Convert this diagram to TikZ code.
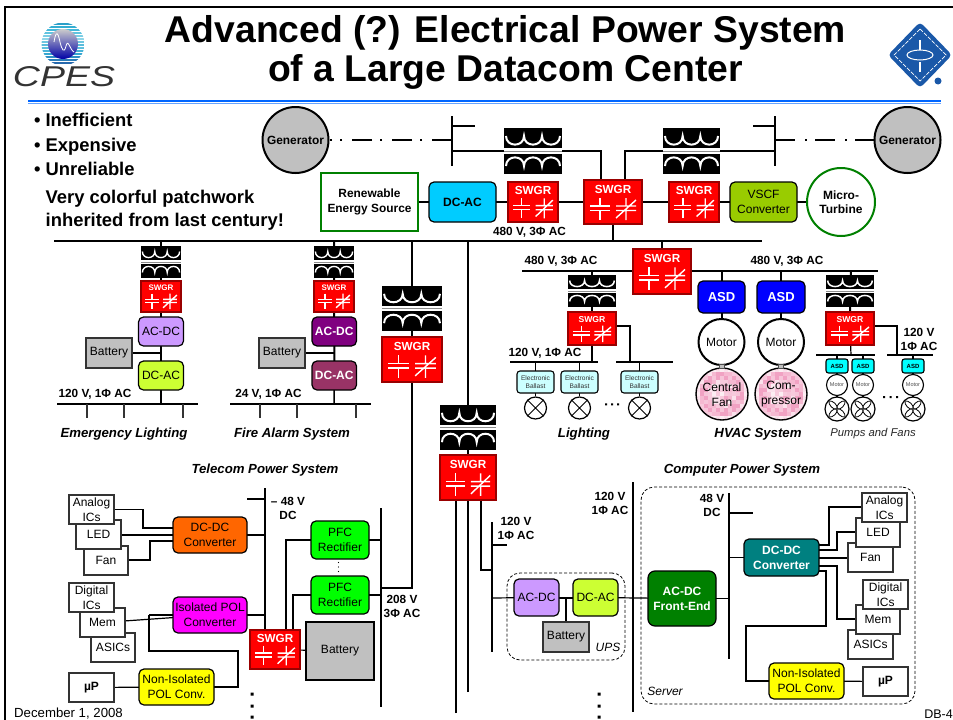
\documentclass[tikz,border=0pt]{standalone}
\usepackage{fontspec}
\setmainfont{Liberation Sans}
\usetikzlibrary{backgrounds,calc}
\definecolor{swred}{HTML}{FF0000}
\definecolor{swedge}{HTML}{990000}
\definecolor{grn}{HTML}{008000}
\definecolor{lilac}{HTML}{CC99FF}
\definecolor{lime}{HTML}{CCFF33}
\definecolor{plum}{HTML}{800080}
\definecolor{mauve}{HTML}{993366}
\definecolor{skyb}{HTML}{00CCFF}
\definecolor{olivg}{HTML}{99CC00}
\definecolor{ltcyan}{HTML}{CCFFFF}
\definecolor{aquab}{HTML}{00FFFF}
\definecolor{orng}{HTML}{FF6600}
\definecolor{magn}{HTML}{FF00FF}
\definecolor{brgrn}{HTML}{00FF00}
\definecolor{teal2}{HTML}{008080}
\definecolor{yell}{HTML}{FFFF00}
\definecolor{greyf}{HTML}{C0C0C0}
\definecolor{sealb}{HTML}{1A58A8}
\definecolor{rulea}{HTML}{0066FF}
\definecolor{ruleb}{HTML}{66A3FF}
\definecolor{pinkb}{HTML}{E8609A}
\definecolor{pinkl}{HTML}{FDF0F4}
\tikzset{
  wire/.style={line width=1.2pt,black},
  wireb/.style={line width=2pt,black},
  busl/.style={line width=2.8pt,black},
  rbox/.style={draw=black,line width=1.2pt,rounded corners=5pt},
  sbox/.style={draw=black!80,line width=1.2pt,fill=white},
  batt/.style={draw=black!80,line width=2.5pt,fill=greyf},
  dbox/.style={draw=black,line width=.8pt,dash pattern=on 3pt off 2pt,rounded corners=13pt},
  lab/.style={font=\fontsize{11.8}{14}\selectfont\bfseries,align=center,inner sep=0pt},
  ilab/.style={font=\fontsize{13.2}{15}\selectfont\bfseries\itshape,inner sep=0pt},
  bull/.style={font=\fontsize{18.4}{23}\selectfont\bfseries,anchor=base west,inner sep=0pt},
  tx/.style={font=\fontsize{12}{15}\selectfont},
  txb/.style={font=\fontsize{12}{15}\selectfont\bfseries},
  dashdot/.style={line width=1.6pt,dash pattern=on 20pt off 10pt on 2pt off 8pt},
  ring/.style={draw=black,line width=2pt,fill=white,circle,inner sep=0pt,align=center},
  dot3/.style={fill=black},
}
\newcommand{\mybox}[7][]{%
  \pgfmathsetmacro\bcx{(#3+#5)/2}\pgfmathsetmacro\bcy{(#4+#6)/2}%
  \pgfmathsetmacro\bw{#5-#3}\pgfmathsetmacro\bh{#6-#4}%
  \node[rectangle,minimum width=\bw pt,minimum height=\bh pt,inner sep=0pt,outer sep=0pt,align=center,#1] (#2) at (\bcx,\bcy) {#7};}
\newcommand{\myswgr}[6]{%
  \mybox[fill=swred,draw=swedge,line width=1.8pt]{#1}{#2}{#3}{#4}{#5}{}%
  \begin{scope}[shift={(\bcx,\bcy)},xscale=\bw/58,yscale=\bh/44]
    \node[text=white,inner sep=0pt,font=\fontsize{#6}{#6}\selectfont\bfseries] (#1t) at (0,-12.5) {SWGR};
    \draw[white,line width=1.4pt] (-23,4)--(-3,4) (-23,8.5)--(-3,8.5) (-13,-4)--(-13,4) (-13,8.5)--(-13,18);
    \draw[white,line width=1.4pt] (3,4)--(23,4) (3,8.5)--(23,8.5) (13,-4)--(13,4) (13,8.5)--(13,18) (3,16)--(23,-2);
  \end{scope}}
\newcommand{\myxf}[6]{%
  \mybox[fill=black]{#1}{#2}{#3}{#4}{#5}{}%
  \begin{scope}[shift={(\bcx,\bcy)},xscale=\bw/58,yscale=\bh/46]
    \fill[white] (-29,-2.6) rectangle (29,2.6);
    \fill[black!45] (-29,-.5) rectangle (29,.5);
    \draw[white,line width=#6pt]
      (-27,-15) .. controls (-27,-3.5) and (-9,-3.5) .. (-9,-15)
      .. controls (-9,-3.5) and (9,-3.5) .. (9,-15) .. controls (9,-3.5) and (27,-3.5) .. (27,-15);
    \draw[white,line width=#6pt]
      (-27,15) .. controls (-27,3.5) and (-9,3.5) .. (-9,15)
      .. controls (-9,3.5) and (9,3.5) .. (9,15) .. controls (9,3.5) and (27,3.5) .. (27,15);
  \end{scope}}
\newcommand{\mylab}[4][lab]{\node[#1] (#2) at (#3) {#4};}
\newcommand{\mylamp}[3]{%
  \node[draw=black,line width=1.2pt,fill=white,circle,minimum size=22pt,inner sep=0pt] (#1) at (#2,#3) {};
  \draw[line width=.8pt] (#1.45)--(#1.225) (#1.135)--(#1.315);}
\newcommand{\myfan}[3]{%
  \node[draw=black,line width=1.2pt,fill=white,circle,minimum size=24pt,inner sep=0pt] (#1) at (#2,#3) {};
  \begin{scope}[shift={(#2,#3)}]
   \foreach \aa in {45,135,225,315}{
    \draw[line width=.8pt,rotate=\aa,fill=white] (0,0) .. controls (2,3.6) and (9,3.2) .. (11.5,0) .. controls (9,-3.2) and (2,-3.6) .. (0,0);}
  \end{scope}}
\newcommand{\mypink}[3]{%
  \fill[pinkl] (#2,#3) circle (26);
  \begin{scope}
    \clip (#2,#3) circle (25.4);
    \foreach \ix in {-6,...,6}{\foreach \iy in {-6,...,6}{
      \pgfmathsetmacro\rr{sqrt(\ix*\ix+\iy*\iy)*4}
      \pgfmathsetmacro\pp{((\rr>14&&\rr<23)||(\rr>4&&\rr<9&&\ix>-1)) ? 30 : 2}
      \pgfmathsetmacro\jj{int(mod(\ix*\ix*7+\iy*\iy*3+\ix*\iy*5+40,4))*8+\pp}
      \fill[pinkb,opacity=\jj/100] ({#2+\ix*4-2},{#3+\iy*4-2}) rectangle +(4,4);
    }}
  \end{scope}
  \node[draw=black,line width=1.4pt,circle,minimum size=52pt,inner sep=0pt] (#1) at (#2,#3) {};}
\begin{document}
\begin{tikzpicture}[x=1pt,y=-1pt]
\useasboundingbox (0,0) rectangle (953,720);
% ---- frame and rule ----
\coordinate (frA) at (5,720); \coordinate (frB) at (5,7); \coordinate (frC) at (953,7);
\draw[line width=2pt] (frA)--(frB)--(frC);
\coordinate (ruA) at (28,101); \coordinate (ruB) at (941,101);
\coordinate (ruC) at (28,103.4); \coordinate (ruD) at (941,103.4);
\draw[rulea,line width=1.4pt] (ruA)--(ruB);
\draw[ruleb,line width=.8pt] (ruC)--(ruD);
% ---- logos and title ----
\begin{scope}
 \clip (63,44) circle (21.5);
 \foreach \yy/\cc in {23/2A9FC8,26/35AED2,29/45B8DA,32/60C4E0,35/7ACDE4,38/8FD5E8,41/6FC6E0,44/58BCDC,47/60C0DE,50/48B4D8,53/35A6D0,56/2F90C4,59/2A7CB8,62/2668AC}{
   \definecolor{ctmp}{HTML}{\cc}\fill[ctmp] (41,\yy) rectangle (85,\yy+1.9);}
\end{scope}
\shade[top color=black!20,bottom color=blue!65!black] (63,44) circle (15);
\draw[white,line width=.8pt] (54,42) .. controls (56,30) and (58,32) .. (60,42) .. controls (62,50) and (64,54) .. (66,46) .. controls (68,38) and (70,50) .. (74,52);
\node[inner sep=0pt,text=black!80] (cpes) at (64,76.5) {\resizebox{102pt}{20pt}{\itshape CPES}};
\coordinate (seal) at (920,55);
\fill[sealb,rounded corners=4pt] (seal) ++(0,-33) -- ++(32,33) -- ++(-32,33) -- ++(-32,-33) -- cycle;
\draw[white,line width=.7pt,dash pattern=on 4pt off 1.5pt] (seal) ++(0,-26) -- ++(26,26) -- ++(-26,26) -- ++(-26,-26) -- cycle;
\draw[white,line width=1pt] (920,55) ellipse (13 and 5);
\draw[white,line width=1.6pt] (920,40)--(920,50) (920,62)--(920,72);
\fill[sealb] (938,81) circle (3.5);
\mylab[{font=\fontsize{37.3}{39}\selectfont\bfseries,align=center,inner sep=0pt}]{title}{505.5,52}{Advanced (?) Electrical Power System\\of a Large Datacom Center}
\mylab[bull]{b1}{34,126.5}{•\hspace{5pt}Inefficient}
\mylab[bull]{b2}{34,151}{•\hspace{5pt}Expensive}
\mylab[bull]{b3}{34,175.5}{•\hspace{5pt}Unreliable}
\mylab[bull]{b4}{45.5,203.5}{Very colorful patchwork}
\mylab[bull]{b5}{45.5,226}{inherited from last century!}
% ---- top ----
\node[ring,minimum size=66pt,fill=greyf,font=\bfseries\fontsize{11.9}{14}\selectfont] (genL) at (295.5,140) {Generator};
\node[ring,minimum size=66pt,fill=greyf,font=\bfseries\fontsize{11.9}{14}\selectfont] (genR) at (907.5,140) {Generator};
\coordinate (bLt) at (452,116); \coordinate (bLb) at (452,166); \coordinate (bLg) at (452,140);
\coordinate (bLs) at (452,126); \coordinate (bLse) at (475,126); \coordinate (bLm) at (452,151);
\coordinate (bRt) at (775,116); \coordinate (bRb) at (775,166); \coordinate (bRg) at (775,140);
\coordinate (bRs) at (775,126); \coordinate (bRse) at (753,126); \coordinate (bRm) at (775,151);
\myxf{xfa}{504}{128}{562}{174}{2}
\myxf{xfb}{663}{128}{720}{174}{2}
\mybox[draw=grn,line width=2.6pt,fill=white,font=\bfseries\fontsize{11.9}{14.5}\selectfont]{ren}{321}{173}{418}{231}{Renewable\\Energy Source}
\mybox[rbox,fill=skyb,txb]{dcacT}{429}{182}{496}{222}{DC-AC}
\myswgr{swa}{508}{182}{558}{222}{11.7}
\myswgr{swc}{584}{180}{642}{224}{11.7}
\myswgr{swb}{669}{182}{719}{222}{11.7}
\mybox[rbox,fill=olivg,tx]{vscf}{730}{182}{797}{222}{VSCF\\Converter}
\node[ring,draw=grn,line width=2pt,minimum size=68pt,font=\fontsize{12}{14.5}\selectfont\bfseries] (micro) at (841,202) {Micro-\\Turbine};
\mylab{l480a}{529.5,232}{480 V, 3Φ AC}
\coordinate (mbL) at (54,241); \coordinate (mbR) at (762,241);
\coordinate (mbc) at (613,241); \coordinate (mbd) at (662,241);
\myswgr{swd}{633}{249}{691}{294}{11.7}
\coordinate (b2L) at (522,271); \coordinate (b2R) at (878,271);
\mylab{l480b}{561,261}{480 V, 3Φ AC}
\mylab{l480c}{787,261}{480 V, 3Φ AC}
% ---- emergency lighting ----
\coordinate (emj) at (161,241); \coordinate (emb) at (161,404);
\coordinate (emL) at (57,404); \coordinate (emR) at (198,404);
\myxf{emx}{141}{246}{181}{278}{1.4}
\myswgr{ems}{141}{281}{181}{312}{8}
\mybox[rbox,fill=lilac,tx]{ema}{138.5}{317}{183.5}{346}{AC-DC}
\mybox[rbox,fill=lime,tx]{emd}{138.5}{361}{183.5}{390}{DC-AC}
\mybox[batt,tx]{emB}{86}{338}{132}{368}{Battery}
\coordinate (emBj) at (161,353);
\mylab{l120a}{95,394}{120 V, 1Φ AC}
\mylab[ilab]{tEm}{124,434}{Emergency Lighting}
% ---- fire alarm ----
\coordinate (faj) at (334,241); \coordinate (fab) at (334,404);
\coordinate (faL) at (230,404); \coordinate (faR) at (371,404);
\myxf{fax}{314}{246}{354}{278}{1.4}
\myswgr{fas}{314}{281}{354}{312}{8}
\mybox[rbox,fill=plum,text=white,txb]{faa}{312}{317}{356.5}{346}{AC-DC}
\mybox[rbox,fill=mauve,text=white,txb]{fad}{312}{361}{356.5}{390}{DC-AC}
\mybox[batt,tx]{faB}{259}{338}{305}{368}{Battery}
\coordinate (faBj) at (334,353);
\mylab{l24}{268.5,394}{24 V, 1Φ AC}
\mylab[ilab]{tFa}{292,434}{Fire Alarm System}
% ---- 208 V feeder ----
\coordinate (fdj) at (412,241); \coordinate (fdb) at (412,588);
\myxf{fdx}{382}{286}{442}{331}{2}
\myswgr{fds}{382}{337}{442}{382}{11.7}
\coordinate (rbT) at (381,508); \coordinate (rbB) at (381,707); \coordinate (rbj) at (381,588);
\mylab{l208}{402,606}{208 V\\3Φ AC}
% ---- centre feeder ----
\coordinate (cfj) at (468,241);
\myxf{cfx}{440}{405}{496}{450}{2}
\myswgr{cfs}{440}{455}{496}{500}{11.7}
\coordinate (cfa) at (456,713); \coordinate (cfat) at (456,500);
\coordinate (cfb) at (468,692); \coordinate (cfbt) at (468,500);
\coordinate (cfct) at (481,500); \coordinate (cfcb) at (481,570); \coordinate (cfcj) at (492,570);
% ---- lighting ----
\coordinate (liT) at (592,271); \coordinate (liB) at (592,362);
\coordinate (li1L) at (510,362); \coordinate (li1R) at (598,362);
\coordinate (li2L) at (616,362); \coordinate (li2R) at (673,362); \coordinate (li2j) at (630,362);
\coordinate (li2c) at (630,326);
\myxf{lix}{568}{275}{616}{307}{1.5}
\myswgr{lis}{568}{312}{616}{345}{8.6}
\mylab{l120l}{545,353}{120 V, 1Φ AC}
\foreach \nm/\xa/\xb in {1/517/554,2/561/598,3/621/658}{
  \mybox[draw=black,line width=1.1pt,rounded corners=3pt,fill=ltcyan,font=\fontsize{6.6}{8}\selectfont,text=black!80]{ba\nm}{\xa}{371}{\xb}{393}{Electronic\\Ballast}
}
\mylamp{la1}{535.5}{408}
\mylamp{la2}{579.5}{408}
\mylamp{la3}{639.5}{408}
\coordinate (la1j) at (535.5,362); \coordinate (la2j) at (579.5,362); \coordinate (la3j) at (639.5,362);
\fill[dot3] (605,403.3) rectangle +(2,2) (611,403.3) rectangle +(2,2) (617,403.3) rectangle +(2,2);
\mylab[ilab]{tLi}{584,434}{Lighting}
% ---- HVAC ----
\coordinate (as1j) at (721.5,271); \coordinate (as2j) at (781,271);
\mybox[rbox,fill=blue,text=white,font=\fontsize{13}{15}\selectfont\bfseries]{as1}{698}{281}{745}{313}{ASD}
\mybox[rbox,fill=blue,text=white,font=\fontsize{13}{15}\selectfont\bfseries]{as2}{757}{281}{805}{313}{ASD}
\node[ring,minimum size=46pt,tx] (mo1) at (721.5,342) {Motor};
\node[ring,minimum size=46pt,tx] (mo2) at (781,342) {Motor};
\mypink{fa1}{722}{394}
\mypink{fa2}{781}{394}
\mylab[{tx,align=center,inner sep=0pt}]{fa1t}{722,395}{Central\\Fan}
\mylab[{tx,align=center,inner sep=0pt}]{fa2t}{781,394}{Com-\\pressor}
\mybox[fill=greyf,draw=black!70,line width=.7pt]{sh1}{719.5}{364.5}{724}{368}{}
\mybox[fill=greyf,draw=black!70,line width=.7pt]{sh2}{778.5}{364.5}{783}{368}{}
\mylab[ilab]{tHv}{758,434}{HVAC System}
% ---- pumps ----
\coordinate (puT) at (851,271); \coordinate (puB) at (851,355);
\coordinate (pu1L) at (816,355); \coordinate (pu1R) at (875,355);
\coordinate (pu2L) at (887,355); \coordinate (pu2R) at (933,355); \coordinate (pu2j) at (897,355);
\coordinate (pu2c) at (897,326);
\myxf{pux}{826}{275}{874}{307}{1.5}
\myswgr{pus}{826}{312}{874}{345}{8.6}
\mylab{l120p}{919,339}{120 V\\1Φ AC}
\foreach \nm/\xa in {1/826,2/852,3/902}{
  \pgfmathsetmacro\xb{\xa+22}
  \mybox[draw=black,line width=1.1pt,rounded corners=2.5pt,fill=aquab,font=\fontsize{6}{7}\selectfont\bfseries]{pa\nm}{\xa}{359}{\xb}{373}{ASD}
}
\foreach \nm/\xc in {1/837,2/863,3/913}{
  \node[ring,line width=1.1pt,minimum size=21pt,font=\fontsize{5.5}{7}\selectfont,text=black!70] (pm\nm) at (\xc,385) {Motor};
  \myfan{pfan\nm}{\xc}{409}
  \coordinate (pj\nm) at (\xc,355);
}
\fill[dot3] (883,396) rectangle +(2,2) (889.5,396) rectangle +(2,2) (896,396) rectangle +(2,2);
\mylab[{font=\fontsize{11.3}{13}\selectfont\itshape,inner sep=0pt,text=black!85}]{tPu}{873,434}{Pumps and Fans}
% ---- telecom ----
\mylab[ilab]{tTe}{265,470}{Telecom Power System}
\coordinate (t48T) at (265,488); \coordinate (t48s) at (265,499); \coordinate (t48e) at (247,499);
\coordinate (t48B) at (265,630);
\mylab{l48n}{288,508}{– 48 V\\DC}
\mybox[rbox,fill=orng,tx]{tdc}{173}{517}{247}{553}{DC-DC\\Converter}
\mybox[sbox,tx]{tFan}{84}{546}{128}{575}{Fan}
\mybox[sbox,tx]{tLed}{76}{520}{121}{549}{LED}
\mybox[sbox,tx]{tAn}{69}{495}{114}{524}{Analog\\ICs}
\mybox[sbox,tx]{tAs}{91}{633}{135}{662}{ASICs}
\mybox[sbox,tx]{tMe}{80}{608}{125}{637}{Mem}
\mybox[sbox,tx]{tDi}{69}{583}{114}{612}{Digital\\ICs}
\mybox[rbox,fill=magn,tx]{tpo}{173}{597}{247}{633}{Isolated POL\\Converter}
\mybox[rbox,fill=yell,tx]{tni}{139}{669}{214}{705}{Non-Isolated\\POL Conv.}
\mybox[sbox,txb]{tup}{69}{673}{114}{702}{µP}
\myswgr{tsw}{250}{630}{300}{669}{11.7}
\mybox[rbox,fill=brgrn,tx]{pf1}{311}{521}{369}{559}{PFC\\Rectifier}
\mybox[rbox,fill=brgrn,tx]{pf2}{311}{576}{369}{614}{PFC\\Rectifier}
\mybox[draw=black,line width=2.6pt,fill=greyf,tx]{tba}{306}{622}{374}{680}{Battery}
\fill[dot3] (338.5,562.5) circle (.7) (338.5,567) circle (.7) (338.5,571.5) circle (.7);
\fill[dot3] (250.5,692.5) rectangle +(3,3) (250.5,704.5) rectangle +(3,3) (250.5,715.5) rectangle +(3,3);
% ---- computer ----
\mylab[ilab]{tCo}{742,470}{Computer Power System}
\coordinate (u120T) at (492,522); \coordinate (u120B) at (492,652); \coordinate (u120s) at (492,545);
\coordinate (u120e) at (507,545); \coordinate (u120j) at (492,598);
\mylab{l120u}{516,528}{120 V\\1Φ AC}
\mybox[dbox]{ups}{507}{573}{625}{660}{}
\mybox[rbox,fill=lilac,tx]{uad}{514}{579}{559}{616}{AC-DC}
\mybox[rbox,fill=lime,tx]{uda}{573}{579}{618}{616}{DC-AC}
\mybox[batt,line width=2.6pt,tx]{uba}{543}{622}{589}{652}{Battery}
\mylab[{font=\fontsize{12}{14}\selectfont\itshape,inner sep=0pt}]{tUps}{608,647}{UPS}
\coordinate (v120T) at (633,482); \coordinate (v120B) at (633,712);
\mylab{l120v}{610,503.5}{120 V\\1Φ AC}
\mybox[dbox]{srv}{641}{487}{915}{704}{}
\mylab[{font=\fontsize{12}{14}\selectfont\itshape,inner sep=0pt}]{tSrv}{665,691}{Server}
\mybox[rbox,fill=grn,text=white,txb,rounded corners=7pt]{cfe}{648}{571}{716}{626}{AC-DC\\Front-End}
\coordinate (d48T) at (729,493); \coordinate (d48B) at (729,659); \coordinate (d48s) at (729,513);
\coordinate (d48e) at (753,513);
\mylab{l48p}{712,505}{48 V\\DC}
\mybox[rbox,fill=teal2,text=white,txb]{cdc}{744}{539}{819}{576}{DC-DC\\Converter}
\mybox[sbox,tx]{cFan}{848}{543}{893}{572}{Fan}
\mybox[sbox,tx]{cLed}{856}{518}{900}{547}{LED}
\mybox[sbox,tx]{cAn}{862}{493}{907}{522}{Analog\\ICs}
\mybox[sbox,tx]{cAs}{848}{630}{893}{659}{ASICs}
\mybox[sbox,tx]{cMe}{856}{605}{900}{634}{Mem}
\mybox[sbox,tx]{cDi}{863}{580}{908}{609}{Digital\\ICs}
\mybox[rbox,fill=yell,tx]{cni}{769}{663}{844}{699}{Non-Isolated\\POL Conv.}
\mybox[sbox,txb]{cup}{863}{667}{908}{696}{µP}
\fill[dot3] (597.5,692.5) rectangle +(3,3) (597.5,704.5) rectangle +(3,3) (597.5,715.5) rectangle +(3,3);
% ---- footer ----
\mylab[{font=\fontsize{13.2}{14}\selectfont,anchor=west,inner sep=0pt}]{fdate}{14,714}{December 1, 2008}
\mylab[{font=\fontsize{12.5}{14}\selectfont,anchor=east,inner sep=0pt}]{fdbnum}{953,714}{DB-4}
% ---- connectors (behind the nodes) ----
\begin{pgfonlayer}{background}
\draw[dashdot] (bLg)--(genL);
\draw[dashdot] (bRg)--(genR);
\draw[line width=2pt] (bLt)--(bLb) (bLs)--(bLse) (bRt)--(bRb) (bRs)--(bRse);
\draw[wireb] (bLm)--(xfa.center)-|([xshift=-12pt]swc.north);
\draw[wireb] (bRm)--(xfb.center)-|([xshift=12pt]swc.north);
\draw[wireb] (ren)--(dcacT)--(swa)--(swc)--(swb)--(vscf)--(micro);
\draw[busl] (mbL)--(mbR);
\draw[wireb] (mbc)--(swc);
\draw[wireb] (mbd)--(swd);
\draw[busl,line width=2.2pt] (b2L)--(b2R);
\draw[wireb] (emj)--(emx)--(ems)--(ema)--(emd);
\draw[wire,line width=1.5pt] (emd)--(emb);
\draw[wire,line width=1.5pt] (emL)--(emR);
\draw[wire] (emB)--(emBj);
\foreach \xx in {87,124,183}{\draw[wire,black!80] (\xx,404)--(\xx,418);}
\draw[wireb] (faj)--(fax)--(fas)--(faa)--(fad);
\draw[wire,line width=1.5pt] (fad)--(fab);
\draw[wire,line width=1.5pt] (faL)--(faR);
\draw[wire] (faB)--(faBj);
\foreach \xx in {260,297,356}{\draw[wire,black!80] (\xx,404)--(\xx,418);}
\draw[wireb,line width=2.4pt] (fdj)--(fdx)--(fds)--(fdb)--(rbj);
\draw[busl] (rbT)--(rbB);
\draw[wireb] (cfj)--(cfx)--(cfs);
\draw[wire,line width=1.6pt] (cfa)--(cfat) (cfb)--(cfbt) (cfct)--(cfcb)--(cfcj);
\draw[wireb] (liT)--(lix)--(lis);
\draw[wire] (lis)--(liB);
\draw[wire] (li1L)--(li1R) (li2L)--(li2R);
\draw[wire] (lis.east |- li2c)--(li2c)--(li2j);
\foreach \i in {1,2,3}{\draw[wire] (la\i j)--(ba\i)--(la\i);}
\draw[wireb] (as1j)--(as1)--(mo1);
\draw[wireb] (as2j)--(as2)--(mo2);
\draw[wireb] (puT)--(pux)--(pus);
\draw[wire] (pus)--(puB);
\draw[wire] (pu1L)--(pu1R) (pu2L)--(pu2R);
\draw[wire] (pus.east |- pu2c)--(pu2c)--(pu2j);
\foreach \i in {1,2,3}{\draw[wire] (pj\i)--(pa\i)--(pm\i)--(pfan\i);}
% telecom
\draw[wire] (t48T)--(t48B) (t48s)--(t48e);
\draw[wire] (tdc)--(tdc.east -| t48T);
\draw[wire] (tAn.east)-|(143,528)--(tdc.west |- 0,528);
\draw[wire] (tLed.east |- 0,535)--(tdc.west |- 0,535);
\draw[wire] (tFan.east |- 0,560)-|(150,541)--(tdc.west |- 0,541);
\draw[wire] (tMe)--(tpo);
\draw[wireb] (149,615)--(tpo.west);
\draw[wire] (149,615)|-(238,651)|-(tni.east);
\draw[wire] (tup)--(tni);
\draw[wire,line width=1.5pt] (tpo)--(tpo.east -| t48T);
\draw[wire] (286,630)|-(pf1.west);
\draw[wire] (293,630)|-(pf2.west);
\draw[wire] (tsw)--(tba);
\draw[wireb] (pf1)--(pf1.east -| rbT);
\draw[wireb] (pf2)--(pf2.east -| rbT);
% computer
\draw[wire,line width=1.5pt] (cfcj)--(u120T) (u120T)--(u120B);
\draw[wire] (u120s)--(u120e);
\draw[wire] (u120j)--(uad);
\draw[wireb] (uad)--(uda);
\draw[wire] (566,598)--(uba);
\draw[wire] (uda)--(cfe);
\draw[wire,line width=1.6pt] (v120T)--(v120B);
\draw[wire] (cfe)--(cfe.east -| d48T);
\draw[wire] (d48T)--(d48B) (d48s)--(d48e);
\draw[wire] (d48T |- cdc)--(cdc);
\draw[wire] (cdc.east |- 0,545)-|(829,507)--(cAn.west |- 0,507);
\draw[wire] (cdc.east |- 0,550)-|(837,532)--(cLed.west |- 0,532);
\draw[wire] (cdc.east |- 0,558)--(cFan.west |- 0,558);
\draw[wire] (cdc.east |- 0,566)-|(837,619)--(cMe.west |- 0,619);
\draw[wire] (cdc.east |- 0,571)-|(826,626)-|(746,681)--(cni.west);
\draw[wire] (cni)--(cup);
\end{pgfonlayer}
\end{tikzpicture}
\end{document}
